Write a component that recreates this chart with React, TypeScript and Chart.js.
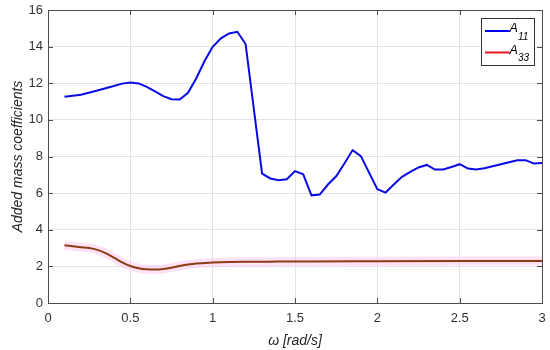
import React, { useEffect, useRef } from "react";
import { Chart, registerables } from "chart.js";

Chart.register(...registerables);

const omega11 = [0.1, 0.2, 0.3, 0.4, 0.45, 0.5, 0.55, 0.6, 0.65, 0.7, 0.75, 0.8, 0.85, 0.9, 0.95, 1.0, 1.05, 1.1, 1.15, 1.2, 1.3, 1.35, 1.4, 1.45, 1.5, 1.55, 1.6, 1.65, 1.7, 1.75, 1.8, 1.85, 1.9, 2.0, 2.05, 2.1, 2.15, 2.2, 2.25, 2.3, 2.35, 2.4, 2.45, 2.5, 2.55, 2.6, 2.65, 2.7, 2.75, 2.8, 2.85, 2.9, 2.95, 3.0];
const a11 = [11.26, 11.37, 11.6, 11.85, 11.98, 12.04, 11.99, 11.8, 11.55, 11.3, 11.13, 11.11, 11.48, 12.26, 13.2, 13.99, 14.45, 14.72, 14.81, 14.14, 7.07, 6.8, 6.7, 6.76, 7.2, 7.03, 5.88, 5.92, 6.47, 6.92, 7.62, 8.35, 8.02, 6.21, 6.03, 6.47, 6.89, 7.16, 7.4, 7.54, 7.29, 7.29, 7.43, 7.58, 7.34, 7.29, 7.36, 7.47, 7.58, 7.69, 7.8, 7.8, 7.62, 7.65];

const omega33 = [0.1, 0.15, 0.2, 0.25, 0.3, 0.35, 0.4, 0.45, 0.5, 0.55, 0.6, 0.65, 0.7, 0.75, 0.8, 0.85, 0.9, 1.0, 1.1, 1.2, 1.4, 1.6, 2.0, 2.5, 3.0];
const a33 = [3.15, 3.1, 3.05, 3.0, 2.9, 2.72, 2.48, 2.22, 2.02, 1.9, 1.84, 1.83, 1.86, 1.93, 2.02, 2.1, 2.16, 2.21, 2.24, 2.25, 2.26, 2.27, 2.28, 2.29, 2.3];

const xTicks = [0, 0.5, 1, 1.5, 2, 2.5, 3];
const yTicks = [0, 2, 4, 6, 8, 10, 12, 14, 16];
const seriesLabels = ["A", "A"];
const seriesSubs = ["11", "33"];

const FONT = "'Liberation Sans', Arial, sans-serif";

const boxPlugin = {
  id: "boxPlugin",
  afterDraw(chart: any) {
    const { ctx, chartArea: a, scales } = chart;
    ctx.save();
    ctx.strokeStyle = "#4d4d4d";
    ctx.lineWidth = 1;
    ctx.strokeRect(Math.round(a.left) + 0.5, Math.round(a.top) + 0.5, Math.round(a.right - a.left), Math.round(a.bottom - a.top));
    const tl = 5;
    ctx.beginPath();
    for (const v of xTicks) {
      const x = Math.round(scales.x.getPixelForValue(v)) + 0.5;
      ctx.moveTo(x, a.bottom);
      ctx.lineTo(x, a.bottom - tl);
      ctx.moveTo(x, a.top);
      ctx.lineTo(x, a.top + tl);
    }
    for (const v of yTicks) {
      const y = Math.round(scales.y.getPixelForValue(v)) + 0.5;
      ctx.moveTo(a.left, y);
      ctx.lineTo(a.left + tl, y);
      ctx.moveTo(a.right, y);
      ctx.lineTo(a.right - tl, y);
    }
    ctx.stroke();

    // legend
    const bx = 481.5, by = 18.5, bw = 53, bh = 47;
    ctx.fillStyle = "#ffffff";
    ctx.fillRect(bx, by, bw, bh);
    ctx.strokeStyle = "#333333";
    ctx.lineWidth = 1;
    ctx.strokeRect(bx, by, bw, bh);
    const colors = ["#0000ff", "#e8141e"];
    const ys = [31, 52.5];
    for (let i = 0; i < 2; i++) {
      ctx.strokeStyle = colors[i];
      ctx.lineWidth = 2;
      ctx.beginPath();
      ctx.moveTo(485, ys[i]);
      ctx.lineTo(509.5, ys[i]);
      ctx.stroke();
      ctx.fillStyle = "#000000";
      ctx.textBaseline = "middle";
      ctx.textAlign = "left";
      ctx.font = `italic 12.5px ${FONT}`;
      ctx.fillText(seriesLabels[i], 509.5, ys[i] - 2);
      ctx.font = `italic 10px ${FONT}`;
      ctx.fillText(seriesSubs[i], 518, ys[i] + 6);
    }
    ctx.restore();
  },
};

export default function App() {
  const ref = useRef<HTMLCanvasElement>(null);
  useEffect(() => {
    document.body.style.margin = "0";
    const chart = new Chart(ref.current!, {
      type: "line",
      data: {
        datasets: [
          {
            label: "A11",
            data: omega11.map((x, i) => ({ x, y: a11[i] })),
            borderColor: "#0a0ae6",
            borderWidth: 2,
            pointRadius: 0,
            tension: 0,
            order: 1,
          },
          {
            label: "A33",
            data: omega33.map((x, i) => ({ x, y: a33[i] })),
            borderColor: "#8c3c14",
            borderWidth: 2,
            pointRadius: 0,
            cubicInterpolationMode: "monotone",
            order: 0,
          },
          {
            label: "band",
            data: omega33.map((x, i) => ({ x, y: a33[i] })),
            borderColor: "rgba(255,190,235,0.45)",
            borderWidth: 9,
            pointRadius: 0,
            cubicInterpolationMode: "monotone",
            order: 2,
          },
        ],
      },
      options: {
        responsive: false,
        animation: false,
        layout: { padding: { left: 0, right: 8, top: 10, bottom: 0 } },
        plugins: { legend: { display: false }, tooltip: { enabled: false } },
        scales: {
          x: {
            type: "linear",
            min: 0,
            max: 3,
            afterBuildTicks: (s: any) => { s.ticks = xTicks.map((v) => ({ value: v })); },
            afterFit: (s: any) => { s.height = 47; s.paddingLeft = 0; s.paddingRight = 0; },
            grid: { color: "#e3e3e3", drawTicks: false },
            border: { display: false },
            ticks: { color: "#333333", font: { family: FONT, size: 13 }, padding: 8, maxRotation: 0, callback: (v: any) => String(v) },
            title: { display: true, text: "ω [rad/s]", color: "#262626", font: { family: FONT, size: 14, style: "italic" }, padding: { top: 4, bottom: 0 } },
          },
          y: {
            min: 0,
            max: 16,
            afterBuildTicks: (s: any) => { s.ticks = yTicks.map((v) => ({ value: v })); },
            afterFit: (s: any) => { s.width = 48; s.paddingTop = 0; s.paddingBottom = 0; },
            grid: { color: "#e3e3e3", drawTicks: false },
            border: { display: false },
            ticks: { color: "#333333", font: { family: FONT, size: 13 }, padding: 5, callback: (v: any) => String(v) },
            title: { display: true, text: "Added mass coefficients", color: "#262626", font: { family: FONT, size: 14, style: "italic" }, padding: { top: 10, bottom: 0 } },
          },
        },
      },
      plugins: [boxPlugin],
    } as any);
    return () => chart.destroy();
  }, []);
  return (
    <div style={{ width: 550, height: 350 }}>
      <canvas ref={ref} width={550} height={350} />
    </div>
  );
}
